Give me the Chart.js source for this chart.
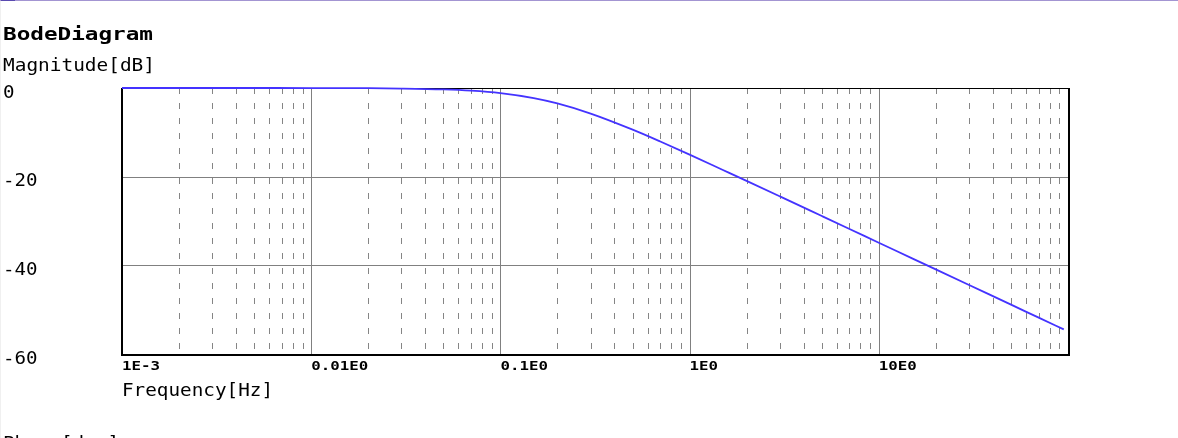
<!DOCTYPE html>
<html><head><meta charset="utf-8">
<script src="https://cdn.jsdelivr.net/npm/chart.js@4"></script>
<style>html,body{margin:0;padding:0;background:#fff;overflow:hidden}canvas{display:block}</style>
</head><body>
<div style="width:1178px;height:438px;position:relative"><canvas id="c" width="1178" height="438"></canvas></div>
<script>
const frequencies = [0.001, 0.002, 0.005, 0.01, 0.02, 0.03, 0.05, 0.07, 0.1, 0.15, 0.2, 0.3, 0.5, 0.7, 1, 1.5, 2, 3, 5, 7, 10, 15, 20, 30, 50, 70, 95];
const magnitudeDb = [0, 0, 0, -0.01, -0.05, -0.12, -0.32, -0.61, -1.17, -2.29, -3.49, -5.77, -9.4, -12.07, -15.03, -18.49, -20.95, -24.45, -28.88, -31.8, -34.9, -38.42, -40.92, -44.44, -48.87, -51.8, -54.45];
const xTickValues = [0.001, 0.01, 0.1, 1, 10];
const xTickLabels = ['1E-3', '0.01E0', '0.1E0', '1E0', '10E0'];
const yTickValues = [0, -20, -40, -60];
const yTickLabels = ['0', '-20', '-40', '-60'];
const decadeStarts = [0.001, 0.01, 0.1, 1, 10];

function fitText(ctx, text, x, y, font, width) {
  ctx.save();
  ctx.font = font;
  const w = ctx.measureText(text).width;
  const s = width ? width / w : 1;
  ctx.translate(x, y);
  ctx.scale(s, 1);
  ctx.textAlign = 'left';
  ctx.fillText(text, 0, 0);
  ctx.restore();
}

const decor = {
  id: 'decor',
  beforeDatasetsDraw(chart) {
    const ctx = chart.ctx, xs = chart.scales.x, ys = chart.scales.y, a = chart.chartArea;
    ctx.save();
    ctx.strokeStyle = '#858585';
    ctx.lineWidth = 1;
    ctx.setLineDash([6, 9]);
    decadeStarts.forEach(d => {
      for (let k = 2; k <= 9; k++) {
        const px = Math.round(xs.getPixelForValue(d * k)) + 0.5;
        if (px > a.right) continue;
        ctx.beginPath(); ctx.moveTo(px, a.top); ctx.lineTo(px, a.bottom); ctx.stroke();
      }
    });
    ctx.setLineDash([]);
    ctx.strokeStyle = '#808080';
    xTickValues.slice(1).forEach(v => {
      const px = Math.round(xs.getPixelForValue(v)) + 0.5;
      ctx.beginPath(); ctx.moveTo(px, a.top); ctx.lineTo(px, a.bottom); ctx.stroke();
    });
    [-20, -40].forEach(v => {
      const py = Math.round(ys.getPixelForValue(v)) + 0.5;
      ctx.beginPath(); ctx.moveTo(a.left, py); ctx.lineTo(a.right, py); ctx.stroke();
    });
    ctx.strokeStyle = '#000';
    ctx.lineWidth = 1;
    ctx.beginPath(); ctx.moveTo(a.left, a.top + 0.5); ctx.lineTo(a.right, a.top + 0.5); ctx.stroke();
    ctx.lineWidth = 2;
    ctx.beginPath(); ctx.moveTo(a.left, a.top); ctx.lineTo(a.left, a.bottom + 1); ctx.lineTo(a.right + 1, a.bottom + 1); ctx.lineTo(a.right + 1, a.top); ctx.stroke();
    ctx.restore();
  },
  afterDraw(chart) {
    const ctx = chart.ctx, xs = chart.scales.x, ys = chart.scales.y, a = chart.chartArea;
    ctx.save();
    ctx.fillStyle = '#a395d2';
    ctx.fillRect(0, 0, 1178, 1);
    ctx.fillStyle = '#5a4ab0';
    ctx.fillRect(1, 0, 14, 1);
    ctx.fillStyle = '#f0f0f0';
    ctx.fillRect(0, 1, 1, 437);
    ctx.fillStyle = '#000';
    ctx.textBaseline = 'middle';
    fitText(ctx, 'BodeDiagram', 3, 35, 'bold 18px "DejaVu Sans Mono"', 150);
    fitText(ctx, 'Magnitude[dB]', 3, 66, '18px "DejaVu Sans Mono"', 152);
    yTickValues.forEach((v, i) => {
      const py = ys.getPixelForValue(v) + 5;
      fitText(ctx, yTickLabels[i], 3, py, '18px "DejaVu Sans Mono"', 11.5 * yTickLabels[i].length);
    });
    xTickValues.forEach((v, i) => {
      const px = xs.getPixelForValue(v);
      fitText(ctx, xTickLabels[i], px, a.bottom + 13, 'bold 12px "DejaVu Sans Mono"', 9.5 * xTickLabels[i].length);
    });
    fitText(ctx, 'Frequency[Hz]', a.left, a.bottom + 37, '18px "DejaVu Sans Mono"', 151);
    ctx.textBaseline = 'top';
    fitText(ctx, 'Phase[deg]', 3, 435, '18px "DejaVu Sans Mono"', 116);
    ctx.restore();
  }
};

new Chart(document.getElementById('c'), {
  type: 'line',
  data: {
    datasets: [{
      data: frequencies.map((f, i) => ({ x: f, y: magnitudeDb[i] })),
      borderColor: '#4433ff',
      borderWidth: 1.8,
      pointRadius: 0,
      cubicInterpolationMode: 'monotone',
      clip: 4
    }]
  },
  options: {
    responsive: false,
    animation: false,
    devicePixelRatio: 1,
    layout: { padding: { left: 122, right: 110, top: 88, bottom: 84 } },
    plugins: { legend: { display: false }, tooltip: { enabled: false } },
    scales: {
      x: { type: 'logarithmic', min: 0.001, max: 100, display: false },
      y: { type: 'linear', min: -60, max: 0, display: false }
    }
  },
  plugins: [decor]
});
</script>
</body></html>
